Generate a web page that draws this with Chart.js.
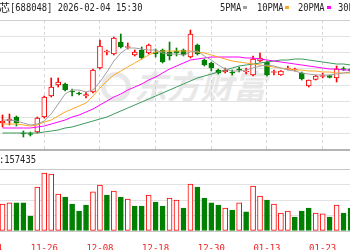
<!DOCTYPE html>
<html>
<head>
<meta charset="utf-8">
<script src="https://cdn.jsdelivr.net/npm/chart.js@4.4.1/dist/chart.umd.min.js"></script>
<style>
  html, body { margin: 0; padding: 0; background: #fff; }
  body { width: 350px; height: 250px; overflow: hidden; position: relative; }
  canvas { position: absolute; left: -20px; z-index: 2; }
  .mono { position: absolute; font-family: "DejaVu Sans Mono", monospace; font-size: 10px; line-height: 12px;
          color: #222; white-space: nowrap; transform: scaleX(0.88); transform-origin: 0 0; z-index: 3; }
  .cjk { position: absolute; font-family: "Noto Sans CJK SC", sans-serif; font-size: 11px; line-height: 13px;
         color: #222; white-space: nowrap; z-index: 3; }
  .key { position: absolute; width: 4px; height: 3px; top: 6px; z-index: 3; }
  .mark { position: absolute; left: 134px; top: 66px; font-family: "Noto Sans CJK SC", sans-serif; font-weight: 700;
          font-style: italic; font-size: 33px; line-height: 38px; color: #e8e8e8; z-index: 1; white-space: nowrap; }
  .logo { position: absolute; left: 101px; top: 72px; width: 20px; height: 20px; border: 5px solid #e8e8e8;
          border-radius: 50%; z-index: 1; }
</style>
</head>
<body>
<div class="cjk" style="left:-34px; top:1px;">长光华芯</div>
<div class="mono" style="left:10px; top:2px;">[688048] 2026-02-04 15:30</div>

<div class="mono" style="left:220px; top:2px;">5PMA</div>
<div class="key" style="left:243px; background:#a0a0a0;"></div>
<div class="mono" style="left:257px; top:2px;">10PMA</div>
<div class="key" style="left:285px; background:#ffa726;"></div>
<div class="mono" style="left:298px; top:2px;">20PMA</div>
<div class="key" style="left:327px; background:#ff00ff;"></div>
<div class="mono" style="left:338px; top:2px;">30PMA</div>

<div class="mono" style="left:-17.5px; top:154px;">VOL:157435</div>

<div class="logo"></div>
<div class="mark">东方财富</div>

<canvas id="kline" width="390" height="152" style="top:0px;"></canvas>
<canvas id="vol" width="390" height="100" style="top:150px;"></canvas>

<script>
// daily candles, 2025-11-18 .. 2026-01-30 (visible window)
const opens  = [73.5, 74.5, 76.5, 68.5, 68.25, 69, 76.5, 87, 92.5, 93, 89.5, 88.5, 87, 89, 101, 109, 108, 114, 111.25, 107.5,
                110, 108.5, 109, 110, 109, 109.5, 110, 106.5, 112.5, 105, 103.5, 100, 99, 99, 100.5, 99, 97.5, 104.5, 104, 98.75,
                97.5, 100.5, 100, 98.5, 92, 95.25, 96.75, 97.25, 96, 100.75, 100.5];
const highs  = [77.5, 78, 77, 69.5, 69, 76.5, 87, 96, 96, 93.5, 90.5, 89, 89, 100.5, 115, 110, 116.5, 118, 113.5, 110,
                111.5, 113, 110.5, 110.5, 114, 111, 110.5, 120, 113, 105.5, 104, 100.5, 101, 100, 101.5, 101, 107, 108.5, 104.5, 100,
                99.75, 102, 101, 99, 95, 97.5, 98.5, 97.5, 102, 101.5, 101];
const lows   = [71.5, 72.5, 72, 66.5, 67, 68.5, 76, 86.5, 91.5, 89.5, 87, 87.5, 86, 88.5, 100.5, 107.5, 107.5, 111, 110.5, 107,
                105.5, 108, 106.5, 103.5, 105, 107, 107, 106, 107.5, 102, 99.5, 98, 98.5, 97.5, 99, 98, 97, 104, 97, 97.5,
                97.25, 100, 99.5, 95, 91.5, 95, 96, 96, 94, 99.75, 99];
const closes = [74.5, 75.5, 73.5, 68, 67.75, 76, 86.5, 91.5, 94, 90, 89, 88, 87.75, 100, 112, 109.25, 116, 111.5, 111.75, 109,
                106, 112.5, 108, 104, 107, 108.5, 107.5, 118, 108, 102.5, 101, 98.5, 100, 98.5, 100, 99.5, 105.5, 106, 97.5, 99,
                99.5, 100.75, 100.25, 95.5, 95, 97, 97.25, 96.25, 100.5, 100.25, 99.75];
const volumes = [174000, 181000, 181000, 181000, 97000, 284000, 374000, 368000, 239000, 219000,
                 174000, 129000, 168000, 252000, 297000, 232000, 258000, 219000, 206000, 161000,
                 161000, 232000, 187000, 161000, 213000, 200000, 148000, 303000, 284000, 213000,
                 181000, 168000, 148000, 135000, 181000, 123000, 290000, 226000, 200000, 174000,
                 116000, 129000, 90000, 129000, 148000, 116000, 110000, 90000, 168000, 116000, 148000];

const ma5  = [75, 75, 74.5, 73.5, 72.5, 73, 74.5, 78, 83, 88, 90, 90, 89, 90, 94, 99, 104.5, 108.5, 111, 111,
              110.5, 110, 110, 108.5, 108, 108, 107.5, 109, 109.5, 107, 105, 102.5, 100.5, 99.5, 99.5, 100, 101, 102, 102.5, 102,
              101, 100, 99.5, 98.5, 98, 97.5, 97.5, 97.5, 98, 98.5, 99];
const ma10 = [73, 73, 73, 72.5, 72, 72.5, 74, 75, 77, 79, 80.5, 82, 83.5, 87, 91, 94.5, 97.5, 99.5, 101.5, 103.5,
              105.5, 107.5, 109, 109.5, 109.5, 109.5, 109.5, 109.5, 109, 108.5, 107.5, 106.5, 105.5, 104.5, 104, 103.5, 103, 102.5, 102, 101.5,
              101, 100.5, 100, 100, 99.5, 99.5, 99, 99, 98.5, 98.5, 98.5];
const ma20 = [71, 71, 71, 71, 71, 71.5, 72, 73, 74, 75, 76.5, 77.5, 79, 80.5, 82.5, 84.5, 86.5, 88, 90, 91.5,
              93, 95, 96.5, 98.5, 100.5, 102, 103.5, 105, 105.5, 106, 106.5, 106.5, 106.5, 106.5, 106.5, 106, 106, 105.5, 105, 104.5,
              104, 103.5, 103, 102.5, 102, 101.5, 101, 100.5, 100.5, 100, 100];
const ma30 = [68.5, 68.5, 68.5, 68.5, 68.5, 68.5, 69, 69.5, 70, 71, 71.5, 72.5, 73.5, 74.5, 75.5, 76.5, 78, 79.5, 81, 82.5,
              84, 85.5, 87, 88.5, 90, 91.5, 93, 94.5, 96, 97, 98, 99, 100, 101, 102, 102.5, 103, 103.5, 104, 104.5,
              105, 105, 105.5, 105.5, 105, 104.5, 104, 103.5, 103, 103, 102.5];

// date ticks (bar index -> label)
const tickIdx    = [-2, 6, 14, 22, 30, 38, 46];
const tickLabels = ['11-14', '11-26', '12-08', '12-18', '12-30', '01-13', '01-23'];

const UP = '#ff0000', DOWN = '#008000';
const xMin = -3.233, xMax = 52.8;
const priceMin = 60, priceMax = 125;
const volMax = 400000;

const xs = closes.map((c, i) => i);
const candleUp = closes.map((c, i) => c >= opens[i]);
const volUp = closes.map((c, i) => i === 0 ? candleUp[0] : c >= closes[i - 1]);

function maSet(label, arr, color, order) {
    return { type: 'line', label: label, data: xs.map(i => ({ x: i, y: arr[i] })),
             borderColor: color, borderWidth: 1, pointRadius: 0, tension: 0, order: order };
}

const xBase = {
    type: 'linear', min: xMin, max: xMax, offset: false,
    grid: { offset: false, color: '#d4d4d4', drawTicks: false },
    border: { display: false, dash: [3, 3] },
    afterBuildTicks: s => { s.ticks = tickIdx.map(v => ({ value: v })); }
};

// price panel
new Chart(document.getElementById('kline'), {
    type: 'bar',
    data: {
        datasets: [
            maSet('5PMA', ma5, '#a0a0a0', 0),
            maSet('10PMA', ma10, '#ffa726', 1),
            maSet('20PMA', ma20, '#ff00ff', 2),
            maSet('30PMA', ma30, '#3a9a5c', 3),
            {
                label: 'body', order: 5, grouped: false, barThickness: 5, minBarLength: 1,
                data: xs.map(i => ({ x: i, y: [opens[i], closes[i]] })),
                backgroundColor: candleUp.map(u => u ? '#ffffff' : DOWN),
                borderColor: candleUp.map(u => u ? UP : DOWN),
                borderWidth: 1, borderSkipped: false
            },
            {
                label: 'wick', order: 6, grouped: false, barThickness: 1,
                data: xs.map(i => ({ x: i, y: [lows[i], highs[i]] })),
                backgroundColor: candleUp.map(u => u ? UP : DOWN)
            }
        ]
    },
    options: {
        responsive: false, animation: false, devicePixelRatio: 1,
        layout: { padding: { top: 20, bottom: 2, left: 0, right: 0 } },
        plugins: { legend: { display: false }, tooltip: { enabled: false } },
        scales: {
            x: Object.assign({}, xBase, {
                ticks: { display: false },
                afterFit: s => { s.height = 0; }
            }),
            y: {
                min: priceMin, max: priceMax,
                grid: {
                    drawTicks: false,
                    color: c => c.tick.value === priceMin ? '#b4b4b4' : (c.tick.value === priceMax ? '#d0d0d0' : '#e2e2e2'),
                    lineWidth: c => c.tick.value === priceMin ? 2 : 1
                },
                border: { display: false },
                ticks: { display: false },
                afterBuildTicks: s => {
                    s.ticks = [0, 1, 2, 3, 4, 5, 6, 7, 8].map(i => ({ value: priceMin + i * (priceMax - priceMin) / 8 }));
                },
                afterFit: s => { s.width = 0; }
            }
        }
    }
});

// volume panel
new Chart(document.getElementById('vol'), {
    type: 'bar',
    data: {
        datasets: [{
            label: 'volume', grouped: false, barThickness: 5,
            data: xs.map(i => ({ x: i, y: volumes[i] })),
            backgroundColor: volUp.map(u => u ? '#ffffff' : DOWN),
            borderColor: volUp.map(u => u ? UP : DOWN),
            borderWidth: 1, borderSkipped: false
        }]
    },
    options: {
        responsive: false, animation: false, devicePixelRatio: 1,
        layout: { padding: { top: 19, bottom: 0, left: 0, right: 0 } },
        plugins: { legend: { display: false }, tooltip: { enabled: false } },
        scales: {
            x: Object.assign({}, xBase, {
                grid: { offset: false, display: false },
                ticks: {
                    autoSkip: false, maxRotation: 0, minRotation: 0, padding: 4,
                    color: '#f02020', font: { family: 'DejaVu Sans Mono', size: 9 },
                    callback: v => { const k = tickIdx.indexOf(v); return k < 0 ? '' : tickLabels[k]; }
                },
                afterFit: s => { s.height = 19; s.paddingLeft = 0; s.paddingRight = 0; }
            }),
            y: {
                min: 0, max: volMax,
                grid: {
                    drawTicks: false,
                    color: c => (c.tick.value === 0 || c.tick.value === volMax) ? '#c8c8c8' : '#e2e2e2'
                },
                border: { display: false },
                ticks: { display: false },
                afterBuildTicks: s => { s.ticks = [0, 1, 2, 3, 4].map(i => ({ value: i * volMax / 4 })); },
                afterFit: s => { s.width = 0; }
            }
        }
    }
});
</script>
</body>
</html>
